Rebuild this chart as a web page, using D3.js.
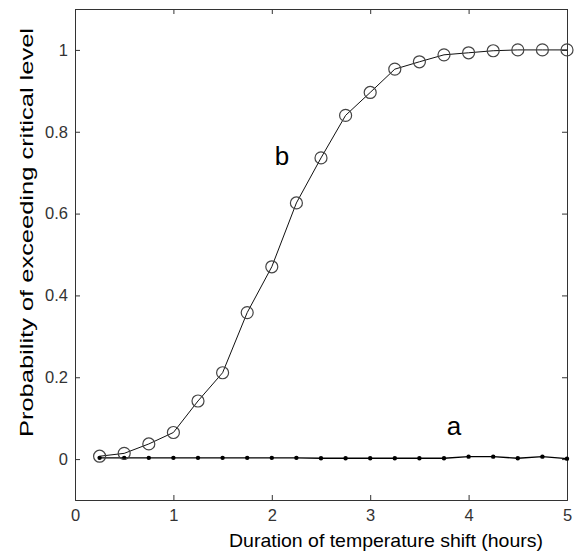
<!DOCTYPE html>
<html>
<head>
<meta charset="utf-8">
<script src="https://cdn.jsdelivr.net/npm/d3@7"></script>
<style>
  body { margin: 0; background: #fff; }
  text { font-family: Arial, "Liberation Sans", sans-serif; }
</style>
</head>
<body>
<svg width="578" height="553"></svg>
<script>
var hours = [0.25, 0.5, 0.75, 1, 1.25, 1.5, 1.75, 2, 2.25, 2.5, 2.75, 3, 3.25, 3.5, 3.75, 4, 4.25, 4.5, 4.75, 5]
var probB = [0.007, 0.014, 0.037, 0.065, 0.142, 0.211, 0.358, 0.470, 0.626, 0.736, 0.840, 0.896, 0.953, 0.971, 0.988, 0.993, 0.998, 1.0, 1.0, 1.0]
var probA = [0.003, 0.003, 0.003, 0.003, 0.003, 0.003, 0.003, 0.003, 0.003, 0.002, 0.002, 0.002, 0.002, 0.002, 0.002, 0.006, 0.006, 0.002, 0.006, 0.001]
var xTicks = [0, 1, 2, 3, 4, 5]
var yTicks = [0, 0.2, 0.4, 0.6, 0.8, 1]

var plotL = 75, plotR = 567, plotT = 9, plotB = 500

var x = d3.scaleLinear().domain([0, 5]).range([plotL, plotR])
var y = d3.scaleLinear().domain([-0.1, 1.1]).range([plotB, plotT])

var svg = d3.select("svg")

// ticks on all four sides, pointing inward
svg.append("g")
  .attr("transform", "translate(0," + plotB + ")")
  .call(d3.axisBottom(x).tickValues(xTicks).tickSize(-5).tickPadding(9).tickFormat(d3.format("d")))
svg.append("g")
  .attr("transform", "translate(0," + plotT + ")")
  .call(d3.axisTop(x).tickValues(xTicks).tickSize(-5).tickFormat(""))
svg.append("g")
  .attr("transform", "translate(" + plotL + ",0)")
  .call(d3.axisLeft(y).tickValues(yTicks).tickSize(-5).tickPadding(7).tickFormat(d => d === 0 || d === 1 ? d : d.toFixed(1)))
svg.append("g")
  .attr("transform", "translate(" + plotR + ",0)")
  .call(d3.axisRight(y).tickValues(yTicks).tickSize(-5).tickFormat(""))

svg.selectAll(".domain").attr("stroke", "#333")
svg.selectAll(".tick line").attr("stroke", "#333")
svg.selectAll(".tick text").attr("font-size", 16.5).attr("fill", "#333")
  .attr("font-family", "Arial, 'Liberation Sans', sans-serif")

var line = d3.line().x(d => x(d[0])).y(d => y(d[1]))

svg.append("path")
  .datum(d3.zip(hours, probA))
  .attr("d", line)
  .attr("fill", "none")
  .attr("stroke", "#000")
  .attr("stroke-width", 1.3)

svg.selectAll(".dotA")
  .data(d3.zip(hours, probA))
  .enter()
  .append("circle")
  .attr("cx", d => x(d[0]))
  .attr("cy", d => y(d[1]))
  .attr("r", 2.2)
  .attr("fill", "#000")

svg.append("path")
  .datum(d3.zip(hours, probB))
  .attr("d", line)
  .attr("fill", "none")
  .attr("stroke", "#111")
  .attr("stroke-width", 1)

svg.selectAll(".dotB")
  .data(d3.zip(hours, probB))
  .enter()
  .append("circle")
  .attr("cx", d => x(d[0]))
  .attr("cy", d => y(d[1]))
  .attr("r", 6)
  .attr("fill", "none")
  .attr("stroke", "#444")
  .attr("stroke-width", 1.2)

svg.append("text")
  .attr("x", 282).attr("y", 165)
  .attr("text-anchor", "middle")
  .attr("font-size", 26)
  .text("b")
svg.append("text")
  .attr("x", 454).attr("y", 435)
  .attr("text-anchor", "middle")
  .attr("font-size", 26)
  .text("a")

svg.append("text")
  .attr("x", 229).attr("y", 547)
  .attr("font-size", 19)
  .attr("textLength", 314)
  .attr("lengthAdjust", "spacingAndGlyphs")
  .text("Duration of temperature shift (hours)")

svg.append("text")
  .attr("transform", "translate(33,437) rotate(-90)")
  .attr("font-size", 19)
  .attr("textLength", 409)
  .attr("lengthAdjust", "spacingAndGlyphs")
  .text("Probability of exceeding critical level")
</script>
</body>
</html>
